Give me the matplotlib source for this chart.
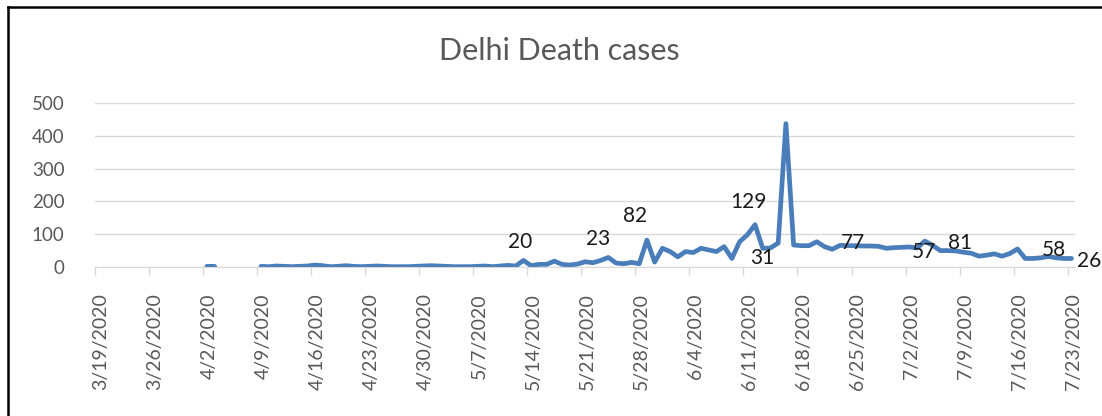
import numpy as np
import matplotlib
matplotlib.use('Agg')
import matplotlib.pyplot as plt
import matplotlib.transforms as mtransforms
import pandas as pd

plt.rcParams['font.family'] = ['Lato', 'DejaVu Sans']

# daily deaths, 3/19/2020 .. 7/23/2020 (nan = no data)
nan = np.nan
march = [nan] * 13
april = [nan, 2, 2, nan, nan, nan, nan, nan,
         2, 1, 3, 2, 1, 2, 3, 6, 4, 1, 2, 4, 2, 1, 2, 3, 2, 1, 1, 1, 2, 3]
may = [4, 3, 2, 1, 1, 1, 2, 3, 1, 3,
       5, 3, 20, 4, 8, 8, 18, 8, 6, 9,
       16, 13, 20, 29, 12, 10, 14, 10, 82, 15, 57]
june = [47, 31, 47, 44, 57, 52, 47, 62, 26, 77,
        98, 129, 57, 58, 73, 437, 67, 65, 65, 77,
        62, 54, 66, 65, 65, 64, 64, 63, 57, 59]
july = [60, 61, 58, 79, 66, 50, 50, 49, 45, 42,
        33, 36, 40, 33, 41, 55, 26, 26, 28, 32, 28, 26, 26]
deaths = np.array(march + april + may + june + july, dtype=float)
dates = pd.date_range('2020-03-19', periods=len(deaths), freq='D')

# data labels shown on the chart
label_texts = ['20', '23', '82', '129', '31', '77', '57', '81', '58', '26']
label_days = [55, 65, 71, 85, 86, 98, 107, 112, 124, 126]
label_offsets = [(-3, 18), (-3, 21), (-12, 24), (-7, 23), (0, -10),
                 (-2, 3), (-1, -11), (-3, 9), (-2, 8), (18, -3)]

fig = plt.figure(figsize=(11.02, 4.16), dpi=100)
ax = fig.add_axes([95 / 1102, 1 - 267 / 416, (1075.4 - 95) / 1102, (267 - 103) / 416])

x = np.arange(len(deaths))
ax.plot(x, deaths, color='#4A7EBB', lw=3.4, solid_joinstyle='round', solid_capstyle='round')

for txt, d, off in zip(label_texts, label_days, label_offsets):
    ax.annotate(txt, xy=(d, deaths[d]), xytext=off, textcoords='offset pixels',
                ha='center', va='center', fontsize=15, color='#1a1a1a')

ax.set_xlim(-0.5, len(deaths) - 0.5)
ax.set_ylim(0, 500)
ax.set_yticks(np.arange(0, 501, 100))
ax.grid(axis='y', color='#D9D9D9', lw=1)
ax.set_axisbelow(True)

tick_idx = np.arange(0, len(deaths), 7)
ax.set_xticks(tick_idx - 0.5)
ax.set_xticklabels([f'{d.month}/{d.day}/{d.year}' for d in dates[tick_idx]],
                   rotation=90, ha='center', va='top')
ax.tick_params(axis='x', length=6, width=1, color='#D9D9D9', pad=13,
               labelsize=14, labelcolor='#595959')
ax.tick_params(axis='y', length=0, pad=22, labelsize=13.5, labelcolor='#595959')
shift = mtransforms.ScaledTranslation(6 / 100, 0, fig.dpi_scale_trans)
for lab in ax.get_xticklabels():
    lab.set_transform(lab.get_transform() + shift)

for s in ['top', 'right', 'left']:
    ax.spines[s].set_visible(False)
ax.spines['bottom'].set_color('#D9D9D9')

fig.text(559 / 1102, 1 - 51 / 416, 'Delhi Death cases', ha='center', va='center',
         fontsize=22, color='#595959')

# outer border (top and left edges of the chart box)
fig.add_artist(plt.Line2D([8 / 1102, 1], [1 - 7 / 416, 1 - 7 / 416],
                          transform=fig.transFigure, color='black', lw=1.8))
fig.add_artist(plt.Line2D([8 / 1102, 8 / 1102], [0, 1 - 7 / 416],
                          transform=fig.transFigure, color='black', lw=1.8))

fig.savefig('out.png', dpi=100)
